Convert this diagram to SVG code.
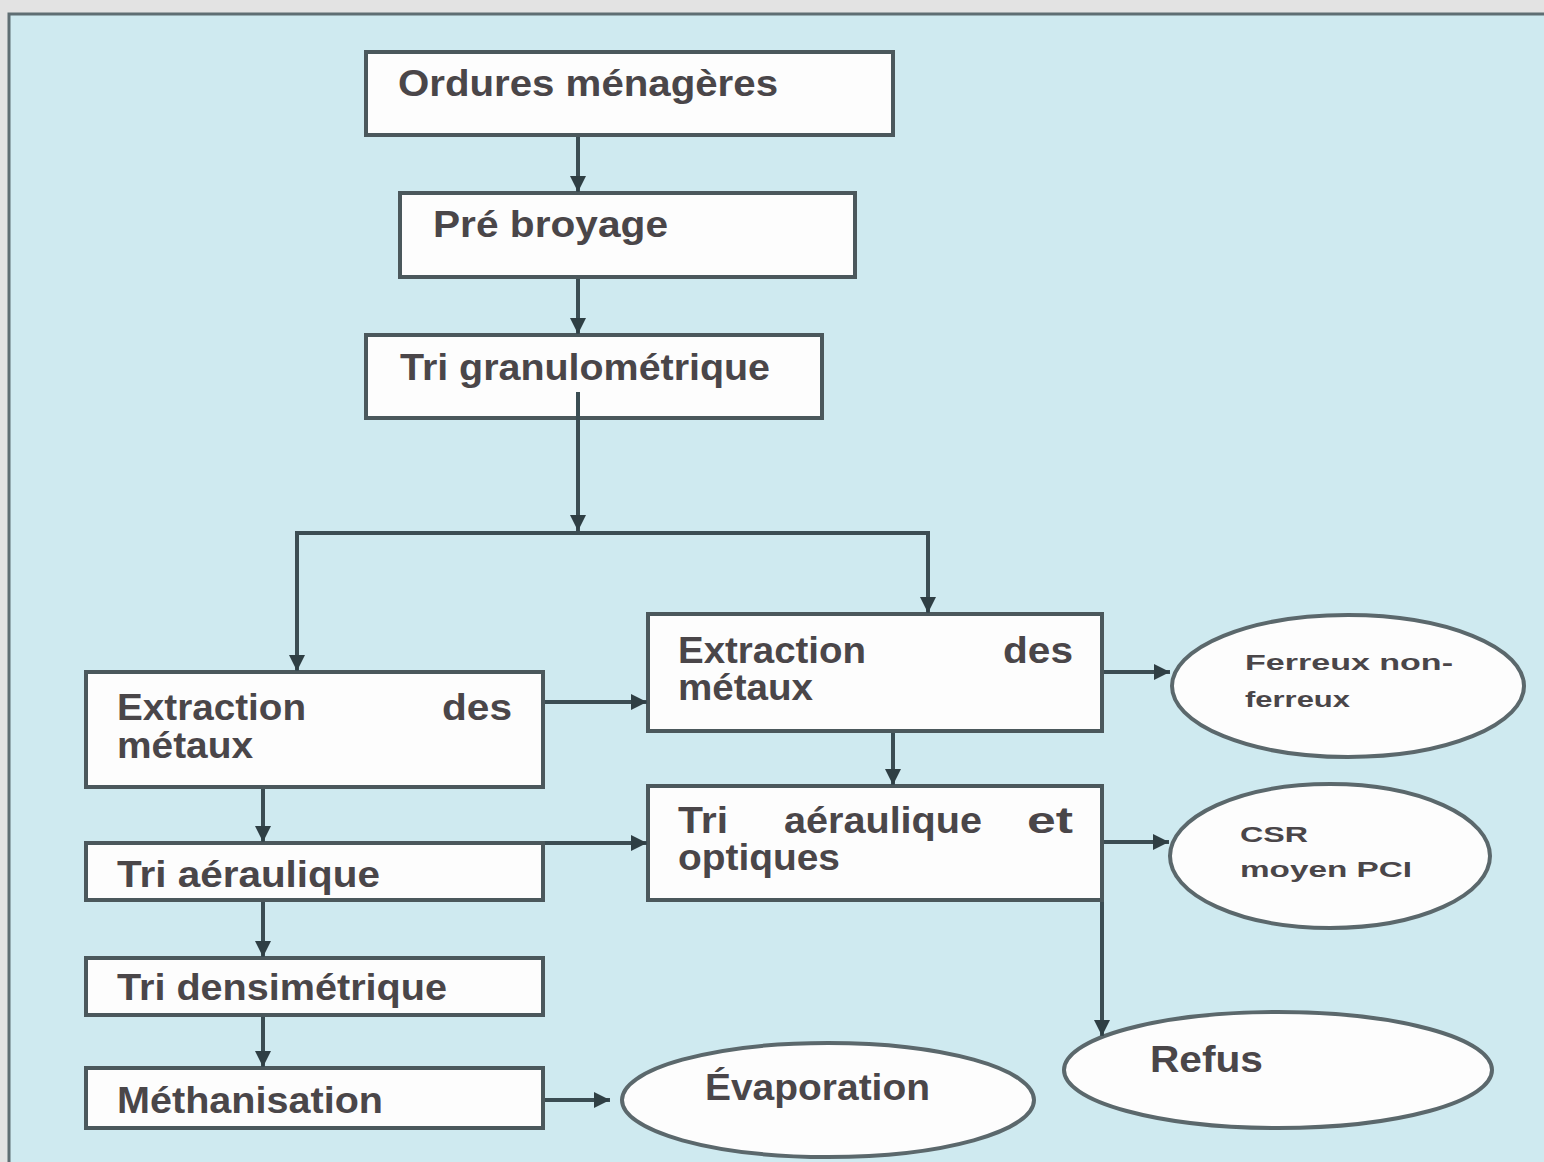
<svg xmlns="http://www.w3.org/2000/svg" width="1544" height="1162" viewBox="0 0 1544 1162">
<defs>
<marker id="ah" viewBox="0 0 10 10" refX="10" refY="5" markerWidth="4" markerHeight="4" markerUnits="strokeWidth" orient="auto">
<path d="M0,0 L10,5 L0,10 z" fill="#2f3f44"/>
</marker>
<style>
.box{fill:#fdfdfd;stroke:#4b585c;stroke-width:4}
.ell{fill:#fdfdfd;stroke:#5b686c;stroke-width:4}
.t{font-family:"Liberation Sans",Arial,sans-serif;font-weight:bold;font-size:36px;fill:#4a4649}
.s{font-family:"Liberation Sans",Arial,sans-serif;font-weight:bold;font-size:22px;fill:#4a4649}
.c{fill:none;stroke:#3b4d53;stroke-width:4}
</style>
</defs>
<rect x="0" y="0" width="1544" height="1162" fill="#e3e3e3"/>
<rect x="9" y="14" width="1545" height="1160" fill="#cfeaf0" stroke="#5f6e73" stroke-width="3"/>

<g id="n-ordures">
<rect class="box" x="366" y="52" width="527" height="83"/>
<text class="t" x="398" y="96" textLength="380" lengthAdjust="spacingAndGlyphs">Ordures ménagères</text>
</g>
<g id="n-prebroyage">
<rect class="box" x="400" y="193" width="455" height="84"/>
<text class="t" x="433" y="237" textLength="235" lengthAdjust="spacingAndGlyphs">Pré broyage</text>
</g>
<g id="n-trigranulo">
<rect class="box" x="366" y="335" width="456" height="83"/>
<text class="t" x="400" y="380" textLength="370" lengthAdjust="spacingAndGlyphs">Tri granulométrique</text>
</g>
<g id="n-extraction-gauche">
<rect class="box" x="86" y="672" width="457" height="115"/>
<text class="t" x="117" y="720" textLength="189" lengthAdjust="spacingAndGlyphs">Extraction</text>
<text class="t" x="442" y="720" textLength="70" lengthAdjust="spacingAndGlyphs">des</text>
<text class="t" x="117" y="758" textLength="136" lengthAdjust="spacingAndGlyphs">métaux</text>
</g>
<g id="n-tri-aeraulique">
<rect class="box" x="86" y="843" width="457" height="57"/>
<text class="t" x="117" y="887" textLength="263" lengthAdjust="spacingAndGlyphs">Tri aéraulique</text>
</g>
<g id="n-tri-densimetrique">
<rect class="box" x="86" y="958" width="457" height="57"/>
<text class="t" x="117" y="1000" textLength="330" lengthAdjust="spacingAndGlyphs">Tri densimétrique</text>
</g>
<g id="n-methanisation">
<rect class="box" x="86" y="1068" width="457" height="60"/>
<text class="t" x="117" y="1113" textLength="266" lengthAdjust="spacingAndGlyphs">Méthanisation</text>
</g>
<g id="n-extraction-droite">
<rect class="box" x="648" y="614" width="454" height="117"/>
<text class="t" x="678" y="663" textLength="188" lengthAdjust="spacingAndGlyphs">Extraction</text>
<text class="t" x="1003" y="663" textLength="70" lengthAdjust="spacingAndGlyphs">des</text>
<text class="t" x="678" y="700" textLength="135" lengthAdjust="spacingAndGlyphs">métaux</text>
</g>
<g id="n-tri-aeraulique-optiques">
<rect class="box" x="648" y="786" width="454" height="114"/>
<text class="t" x="678" y="833" textLength="50" lengthAdjust="spacingAndGlyphs">Tri</text>
<text class="t" x="784" y="833" textLength="198" lengthAdjust="spacingAndGlyphs">aéraulique</text>
<text class="t" x="1027" y="833" textLength="46" lengthAdjust="spacingAndGlyphs">et</text>
<text class="t" x="678" y="870" textLength="162" lengthAdjust="spacingAndGlyphs">optiques</text>
</g>
<g id="n-ferreux">
<ellipse class="ell" cx="1348" cy="686" rx="176" ry="71"/>
<text class="s" x="1245" y="670" textLength="208" lengthAdjust="spacingAndGlyphs">Ferreux non-</text>
<text class="s" x="1245" y="707" textLength="105" lengthAdjust="spacingAndGlyphs">ferreux</text>
</g>
<g id="n-csr">
<ellipse class="ell" cx="1330" cy="856" rx="160" ry="72"/>
<text class="s" x="1240" y="842" textLength="68" lengthAdjust="spacingAndGlyphs">CSR</text>
<text class="s" x="1240" y="877" textLength="172" lengthAdjust="spacingAndGlyphs">moyen PCI</text>
</g>
<g id="n-refus">
<ellipse class="ell" cx="1278" cy="1070" rx="214" ry="58"/>
<text class="t" x="1150" y="1072" textLength="113" lengthAdjust="spacingAndGlyphs">Refus</text>
</g>
<g id="n-evaporation">
<ellipse class="ell" cx="828" cy="1100" rx="206" ry="57"/>
<text class="t" x="705" y="1100" textLength="225" lengthAdjust="spacingAndGlyphs">Évaporation</text>
</g>

<g id="connectors">
<line class="c" x1="578" y1="137" x2="578" y2="192" marker-end="url(#ah)"/>
<line class="c" x1="578" y1="279" x2="578" y2="334" marker-end="url(#ah)"/>
<line class="c" x1="578" y1="392" x2="578" y2="531" marker-end="url(#ah)"/>
<polyline class="c" points="297,533 928,533 928,613" marker-end="url(#ah)"/>
<line class="c" x1="297" y1="531" x2="297" y2="671" marker-end="url(#ah)"/>
<line class="c" x1="545" y1="702" x2="647" y2="702" marker-end="url(#ah)"/>
<line class="c" x1="893" y1="733" x2="893" y2="785" marker-end="url(#ah)"/>
<line class="c" x1="1104" y1="672" x2="1170" y2="672" marker-end="url(#ah)"/>
<line class="c" x1="1104" y1="842" x2="1169" y2="842" marker-end="url(#ah)"/>
<line class="c" x1="1102" y1="902" x2="1102" y2="1036" marker-end="url(#ah)"/>
<line class="c" x1="263" y1="789" x2="263" y2="842" marker-end="url(#ah)"/>
<line class="c" x1="545" y1="843" x2="647" y2="843" marker-end="url(#ah)"/>
<line class="c" x1="263" y1="902" x2="263" y2="957" marker-end="url(#ah)"/>
<line class="c" x1="263" y1="1017" x2="263" y2="1067" marker-end="url(#ah)"/>
<line class="c" x1="545" y1="1100" x2="610" y2="1100" marker-end="url(#ah)"/>
</g>
</svg>
